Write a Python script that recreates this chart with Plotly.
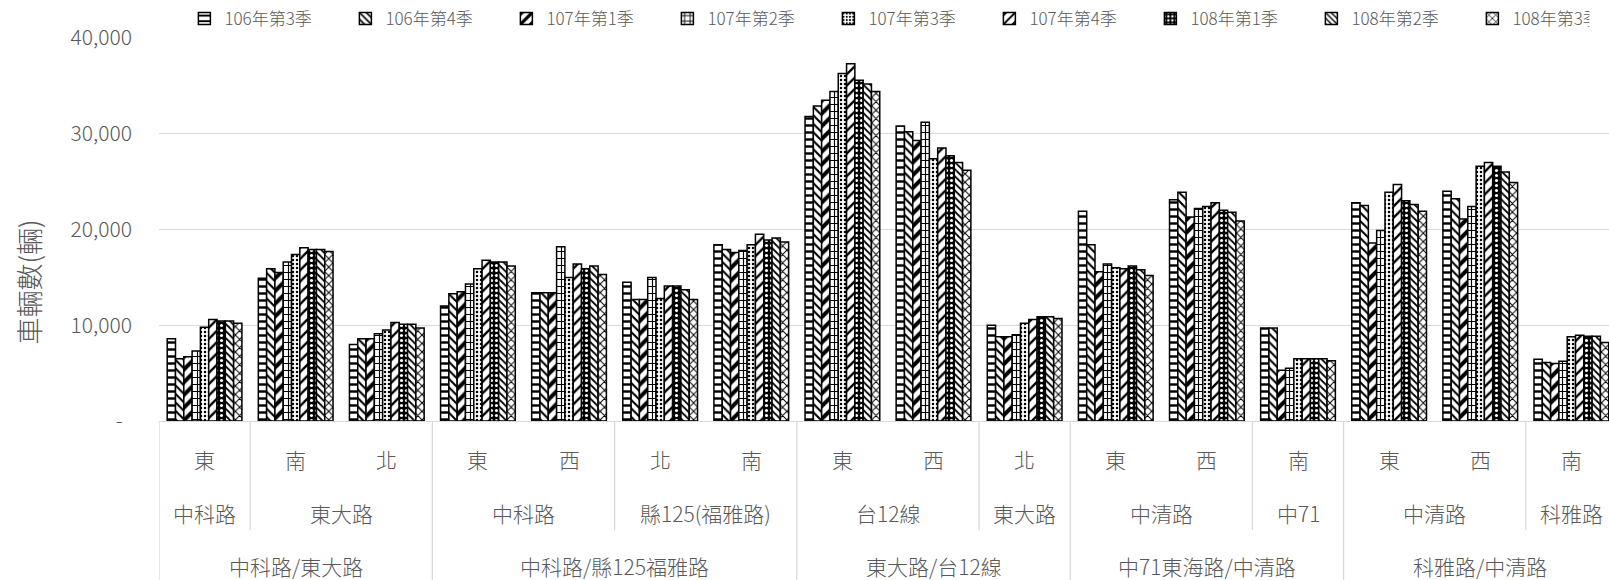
import plotly.graph_objects as go

# Three-level category axis: intersection / road / approach direction
intersection = ["中科路/東大路"] * 3 + ["中科路/縣125福雅路"] * 4 + ["東大路/台12線"] * 3 \
    + ["中71東海路/中清路"] * 3 + ["科雅路/中清路"] * 3
road = ["中科路", "東大路", "東大路",
        "中科路", "中科路", "縣125(福雅路)", "縣125(福雅路)",
        "台12線", "台12線", "東大路",
        "中清路", "中清路", "中71",
        "中清路", "中清路", "科雅路"]
direction = ["東", "南", "北", "東", "西", "北", "南", "東", "西", "北",
             "東", "西", "南", "東", "西", "南"]

quarters = ["106年第3季", "106年第4季", "107年第1季", "107年第2季", "107年第3季",
            "107年第4季", "108年第1季", "108年第2季", "108年第3季"]

# Vehicle counts per quarter (one value per direction above)
q106_3 = [8600, 14900, 8000, 12000, 13400, 14500, 18400, 31800, 30800, 10000, 21900, 23100, 9700, 22800, 24000, 6450]
q106_4 = [6500, 15900, 8600, 13300, 13400, 12700, 17900, 32900, 30200, 8800, 18400, 23900, 9700, 22500, 23200, 6100]
q107_1 = [6700, 15500, 8600, 13500, 13400, 12700, 17600, 33500, 29300, 8800, 15600, 21300, 5300, 18600, 21100, 6000]
q107_2 = [7300, 16600, 9100, 14300, 18200, 15000, 17800, 34400, 31200, 9000, 16400, 22200, 5500, 19900, 22400, 6250]
q107_3 = [9800, 17400, 9500, 15900, 15000, 12800, 18400, 36300, 27400, 10200, 16000, 22400, 6500, 23900, 26600, 8800]
q107_4 = [10600, 18100, 10300, 16800, 16400, 14100, 19500, 37300, 28500, 10600, 15900, 22800, 6500, 24700, 27000, 8950]
q108_1 = [10450, 17900, 10100, 16600, 15900, 14100, 18900, 35600, 27700, 10900, 16200, 22000, 6500, 23000, 26600, 8850]
q108_2 = [10450, 17900, 10100, 16600, 16200, 13700, 19100, 35200, 27000, 10900, 15800, 21800, 6500, 22600, 26000, 8850]
q108_3 = [10200, 17700, 9700, 16200, 15300, 12700, 18700, 34400, 26200, 10700, 15200, 20900, 6300, 21900, 24900, 8200]
series = [q106_3, q106_4, q107_1, q107_2, q107_3, q107_4, q108_1, q108_2, q108_3]

y_ticks = [0, 10000, 20000, 30000, 40000]
y_tick_text = ["-\u00a0\u00a0", "10,000", "20,000", "30,000", "40,000"]

FONT = "Noto Sans CJK TC"
GREY = "#595959"
LINE = "#d9d9d9"

# Black-and-white fill patterns, one per quarter
patterns = [
    dict(shape="-", size=7, solidity=0.35),
    dict(shape="\\", size=6, solidity=0.35),
    dict(shape="/", size=9, solidity=0.45),
    dict(shape="+", size=7, solidity=0.3),
    dict(shape=".", size=4, solidity=0.3),
    dict(shape="/", size=8, solidity=0.3),
    dict(shape=".", size=5, solidity=0.3, fgcolor="white", bgcolor="black"),
    dict(shape="\\", size=5, solidity=0.35),
    dict(shape="x", size=6, solidity=0.3),
]

x_pos = list(range(len(direction)))

fig = go.Figure()
for i, (name, vals) in enumerate(zip(quarters, series)):
    pat = dict(fgcolor="black", bgcolor="white", fillmode="replace")
    pat.update(patterns[i])
    fig.add_trace(go.Bar(
        name=name, x=x_pos, y=vals,
        marker=dict(color="white", line=dict(color="black", width=1.5), pattern=pat),
        legendwidth=72 if i == len(quarters) - 1 else None,
    ))

# Category labels and separators
ann = []
shapes = []
row_y = [-0.099, -0.240, -0.379]
short_bottom = -0.285
long_bottom = -0.42


def runs(labels, keys):
    out = []
    start = 0
    for j in range(1, len(labels) + 1):
        if j == len(labels) or keys[j] != keys[start]:
            out.append((start, j - 1, labels[start]))
            start = j
    return out


for j, d in enumerate(direction):
    ann.append(dict(x=j, y=row_y[0], text=d))

road_keys = [f"{a}|{b}" for a, b in zip(intersection, road)]
for s, e, lab in runs(road, road_keys):
    ann.append(dict(x=(s + e) / 2, y=row_y[1], text=lab))
    if s > 0 and intersection[s] == intersection[s - 1]:
        shapes.append(dict(type="line", xref="x", yref="paper", x0=s - 0.5, x1=s - 0.5,
                           y0=0, y1=short_bottom, line=dict(color=LINE, width=1.3)))

for s, e, lab in runs(intersection, intersection):
    ann.append(dict(x=(s + e) / 2, y=row_y[2], text=lab))
    shapes.append(dict(type="line", xref="x", yref="paper", x0=s - 0.5, x1=s - 0.5,
                       y0=0, y1=long_bottom, line=dict(color=LINE, width=1.3)))

annotations = [dict(xref="x", yref="paper", x=a["x"], y=a["y"], text=a["text"],
                    showarrow=False, xanchor="center", yanchor="middle",
                    font=dict(family=FONT, size=21, color=GREY, weight=300)) for a in ann]
annotations.append(dict(xref="paper", yref="paper", x=-0.09, y=0.363, text="車輛數(輛)",
                        textangle=-90, showarrow=False, xanchor="center", yanchor="middle",
                        font=dict(family=FONT, size=27, color=GREY, weight=300)))

fig.update_layout(
    width=1609, height=580,
    margin=dict(l=159, r=0, t=38, b=159, autoexpand=False),
    paper_bgcolor="white", plot_bgcolor="white",
    barmode="group", bargap=0.18, bargroupgap=0,
    font=dict(family=FONT, color=GREY, weight=300),
    legend=dict(orientation="h", xref="paper", yref="paper", x=0.0175, y=1.05,
                xanchor="left", yanchor="middle", entrywidth=116,
                font=dict(family=FONT, size=17, color=GREY, weight=300), traceorder="normal"),
    xaxis=dict(range=[-0.5, 15.413], showticklabels=False, showgrid=False, zeroline=False,
               showline=True, linecolor=LINE, linewidth=1.3, ticks=""),
    yaxis=dict(range=[0, 40000], tickvals=y_ticks, ticktext=y_tick_text, showgrid=True,
               gridcolor=LINE, gridwidth=1.3, zeroline=False, showline=False, ticks="",
               ticklabelstandoff=26,
               tickfont=dict(family=FONT, size=21, color=GREY, weight=300)),
    annotations=annotations, shapes=shapes,
)

fig.write_html("out.html")
